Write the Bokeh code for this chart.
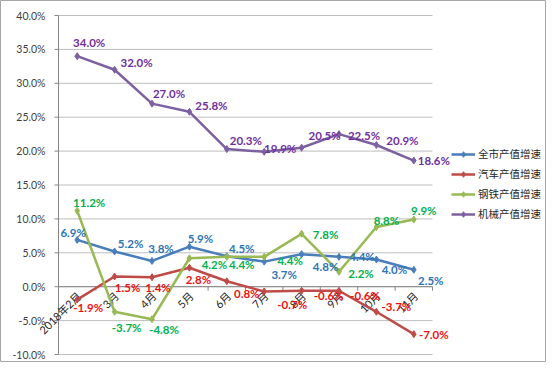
import math
from bokeh.plotting import figure
from bokeh.models import Legend, LegendItem, Range1d
from bokeh.core.properties import value
from bokeh.embed import file_html
from bokeh.resources import INLINE

# ---- data ----
months = ["2018年2月", "3月", "4月", "5月", "6月", "7月", "8月", "9月", "10月", "11月"]
city = [6.9, 5.2, 3.8, 5.9, 4.5, 3.7, 4.8, 4.4, 4.0, 2.5]
auto = [-1.9, 1.5, 1.4, 2.8, 0.8, -0.7, -0.6, -0.6, -3.7, -7.0]
steel = [11.2, -3.7, -4.8, 4.2, 4.4, 4.4, 7.8, 2.2, 8.8, 9.9]
machine = [34.0, 32.0, 27.0, 25.8, 20.3, 19.9, 20.5, 22.5, 20.9, 18.6]
series_names = ["全市产值增速", "汽车产值增速", "钢铁产值增速", "机械产值增速"]
y_ticks = [-10, -5, 0, 5, 10, 15, 20, 25, 30, 35, 40]

# ---- styling (label offsets in screen px: dx right, dy down) ----
city_dx = [-4, 16, 9, 11, 15, 20, 24, 23, 18, 17]
city_dy = [-7, -8, -12, -8, -8, 13, 12, 0, 10, 11]
auto_dx = [11, 13, 6, 9, 20, 28, 27, 26, 20, 20]
auto_dy = [8, 11, 10, 12, 12, 13, 5, 5, -5, 0]
steel_dx = [12, 12, 12, 25, 15, 26, 24, 22, 10, 10]
steel_dy = [-8, 16, 10, 6, 8, 4, 1, 2, -7, -9]
mach_dx = [12, 22, 17, 22, 19, 16, 23, 25, 26, 20]
mach_dy = [-14, -7, -10, -6, -9, -3, -12, 1, -4, 0]

line_colors = ["#4A7EBB", "#BE4B48", "#98B954", "#7D60A0"]
label_colors = ["#2E75B6", "#EE1111", "#00B050", "#7030A0"]
FONT = "Lato, Noto Sans CJK SC"
AXIS_C = "#868686"

# plot-area placement in figure pixels
W, H = 546, 362
PL, PR, PT, PB = 58, 432, 15, 354
n = len(months)
ymin, ymax = min(y_ticks), max(y_ticks)
XS = (PR - PL) / n
YS = (PB - PT) / (ymax - ymin)
x0, x1 = -0.5, n - 0.5

p = figure(width=W, height=H,
           x_range=Range1d(x0 - PL / XS, x1 + (W - PR) / XS),
           y_range=Range1d(ymin - (H - PB) / YS, ymax + PT / YS),
           x_axis_location=None, y_axis_location=None,
           output_backend="svg", toolbar_location=None, min_border=0)
p.outline_line_color = "#A6A6A6"
p.background_fill_color = "white"
p.border_fill_color = "white"
p.grid.visible = False

idx = list(range(n))

# horizontal gridlines
p.segment(x0=[x0] * len(y_ticks), y0=y_ticks, x1=[x1] * len(y_ticks), y1=y_ticks,
          line_color="#BEBEBE", line_width=1)
# value axis
p.segment(x0=[x0], y0=[ymin], x1=[x0], y1=[ymax], line_color=AXIS_C, line_width=1)
p.segment(x0=[x0] * len(y_ticks), y0=y_ticks, x1=[x0 - 4 / XS] * len(y_ticks), y1=y_ticks,
          line_color=AXIS_C, line_width=1)
p.text(x=[x0] * len(y_ticks), y=y_ticks, text=[f"{t:.1f}%" for t in y_ticks],
       x_offset=-13, text_align="right", text_baseline="middle",
       text_font=value(FONT), text_font_size="10.5px", text_color="#404040")

# category axis crossing at 0
bounds = [i - 0.5 for i in range(n + 1)]
p.segment(x0=[x0], y0=[0], x1=[x1], y1=[0], line_color=AXIS_C, line_width=1)
p.segment(x0=bounds, y0=[0] * len(bounds), x1=bounds, y1=[-4 / YS] * len(bounds),
          line_color=AXIS_C, line_width=1)
p.text(x=idx, y=[0] * n, text=months, angle=math.pi / 4,
       text_align="right", text_baseline="middle", x_offset=2, y_offset=7,
       text_font=value(FONT), text_font_size="11px", text_color="#262626")

all_series = [city, auto, steel, machine]
offs = [(city_dx, city_dy), (auto_dx, auto_dy), (steel_dx, steel_dy), (mach_dx, mach_dy)]
items = []
for name, vals, lc in zip(series_names, all_series, line_colors):
    lr = p.line(idx, vals, line_color=lc, line_width=2.5)
    sr = p.scatter(idx, vals, marker="diamond", size=7, color=lc)
    items.append(LegendItem(label=name, renderers=[lr, sr]))

for vals, (dx, dy), tc in zip(all_series, offs, label_colors):
    p.text(x=idx, y=vals, text=[f"{v:.1f}%" for v in vals], x_offset=dx, y_offset=dy,
           text_align="center", text_baseline="middle", text_font=value(FONT),
           text_font_style="bold", text_font_size="11.5px", text_color=tc)

legend = Legend(items=items, location=(451, 141), orientation="vertical",
                glyph_width=24, glyph_height=14, label_height=14, spacing=5,
                padding=0, margin=0, border_line_color=None, background_fill_alpha=0,
                label_text_font="Noto Sans CJK SC", label_text_font_size="10.5px",
                label_text_color="#262626", label_standoff=3)
p.add_layout(legend)

open("out.html", "w").write(file_html(p, INLINE))
